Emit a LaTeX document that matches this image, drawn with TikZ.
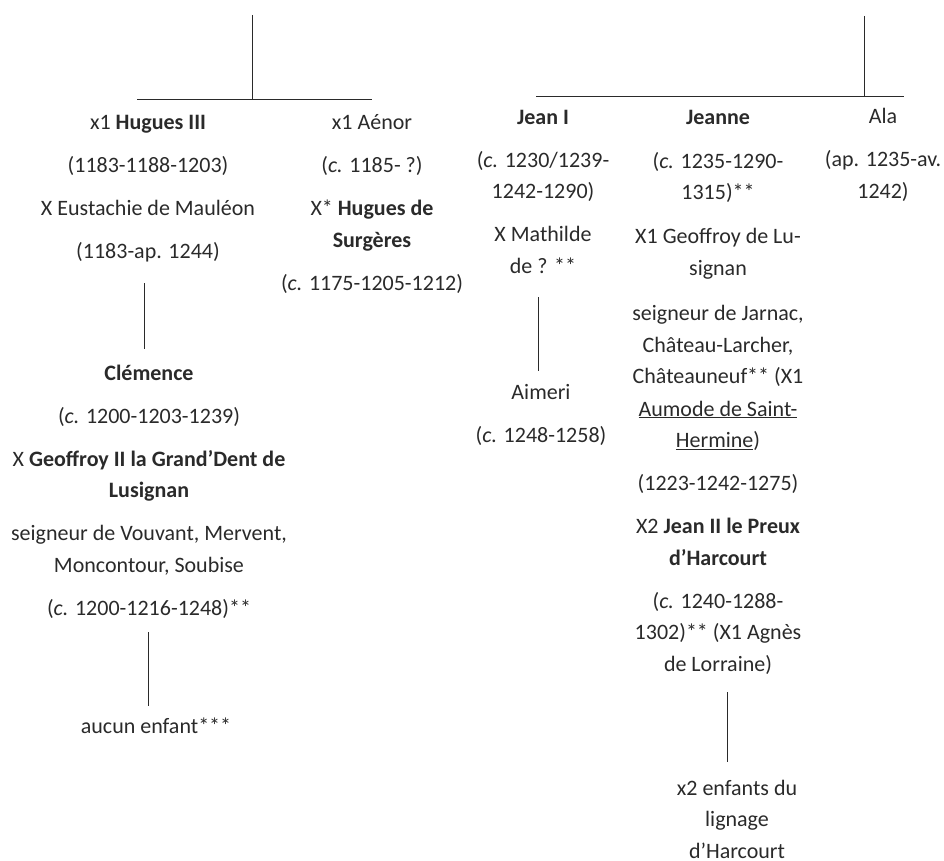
\documentclass[tikz,border=0pt]{standalone}
\usepackage{fontspec}
\setmainfont{Carlito}
\usetikzlibrary{positioning}
\definecolor{ink}{HTML}{2A2A2A}

\begin{document}
\begin{tikzpicture}[x=1pt, y=-1pt,
  person/.style={font=\fontsize{22}{31.5}\selectfont, text=ink, align=center, anchor=base, inner sep=0pt},
  link/.style={draw=ink, line width=1pt}]

\useasboundingbox (0,0) rectangle (944,861);

% Left branch
\coordinate (ltop) at (252,15);
\coordinate (ljoin) at (252,100);
\coordinate (lbarW) at (137,100);
\coordinate (lbarE) at (372,100);
\draw[link] (ltop) -- (ljoin);
\draw[link] (lbarW) -- (lbarE);

\node[person] (hugues) at (148,258) {x1 \textbf{Hugues III}\\[11.5pt](1183-1188-1203)\\[11.5pt]X Eustachie de Mauléon\\[11.5pt](1183-ap. 1244)};
\node[person] (aenor) at (372,290) {x1 Aénor\\[11.5pt]({\itshape c.} 1185- ?)\\[11.5pt]X* \textbf{Hugues de}\\\textbf{Surgères}\\[11.5pt]({\itshape c.} 1175-1205-1212)};

\node[person] (clemence) at (149,615) {\textbf{Clémence}\\[11.5pt]({\itshape c.} 1200-1203-1239)\\[11.5pt]X \textbf{Geoffroy II la Grand'Dent de}\\\textbf{Lusignan}\\[11.5pt]seigneur de Vouvant, Mervent,\\Moncontour, Soubise\\[11.5pt]({\itshape c.} 1200-1216-1248)**};
\node[person] (aucun) at (156,733) {aucun enfant***};

\draw[link, shorten <=21.5pt, shorten >=15.5pt] ([xshift=-4pt]hugues.south) -- ([xshift=-5pt]clemence.north);
\draw[link, shorten <=14pt, shorten >=11pt] ([xshift=-0.3pt]clemence.south) -- ([xshift=-7.3pt]aucun.north);

% Right branch
\coordinate (rtop) at (864,16);
\coordinate (rjoin) at (864,97);
\coordinate (rbarW) at (536,97);
\coordinate (rbarE) at (904,97);
\draw[link] (rtop) -- (rjoin);
\draw[link] (rbarW) -- (rbarE);

\node[person] (jean) at (543,273) {\textbf{Jean I}\\[11.5pt]({\itshape c.} 1230/1239-\\1242-1290)\\[11.5pt]X Mathilde\\de ? **};
\node[person] (aimeri) at (541,442) {Aimeri\\[11.5pt]({\itshape c.} 1248-1258)};

\node[person] (jeanne) at (718,671) {\textbf{Jeanne}\\[12.5pt]({\itshape c.} 1235-1290-\\1315)**\\[12.5pt]X1 Geoffroy de Lu-\\signan\\[14pt]seigneur de Jarnac,\\Château-Larcher,\\Châteauneuf** (X1\\[1pt]\underline{Aumode de Saint-}\\\underline{Hermine})\\[11.5pt](1223-1242-1275)\\[11.5pt]X2 \textbf{Jean II le Preux}\\\textbf{d'Harcourt}\\[11.5pt]({\itshape c.} 1240-1288-\\1302)** (X1 Agnès\\de Lorraine)};
\node[person] (harcourt) at (737,858) {x2 enfants du\\lignage\\d'Harcourt};

\node[person] (ala) at (883,198) {Ala\\[11.5pt](ap. 1235-av.\\1242)};

\draw[link, shorten <=24pt, shorten >=13pt] ([xshift=-5pt]jean.south) -- ([xshift=-3pt]aimeri.north);
\draw[link, shorten <=18pt, shorten >=17.5pt] ([xshift=9pt]jeanne.south) -- ([xshift=-10pt]harcourt.north);

\end{tikzpicture}
\end{document}
